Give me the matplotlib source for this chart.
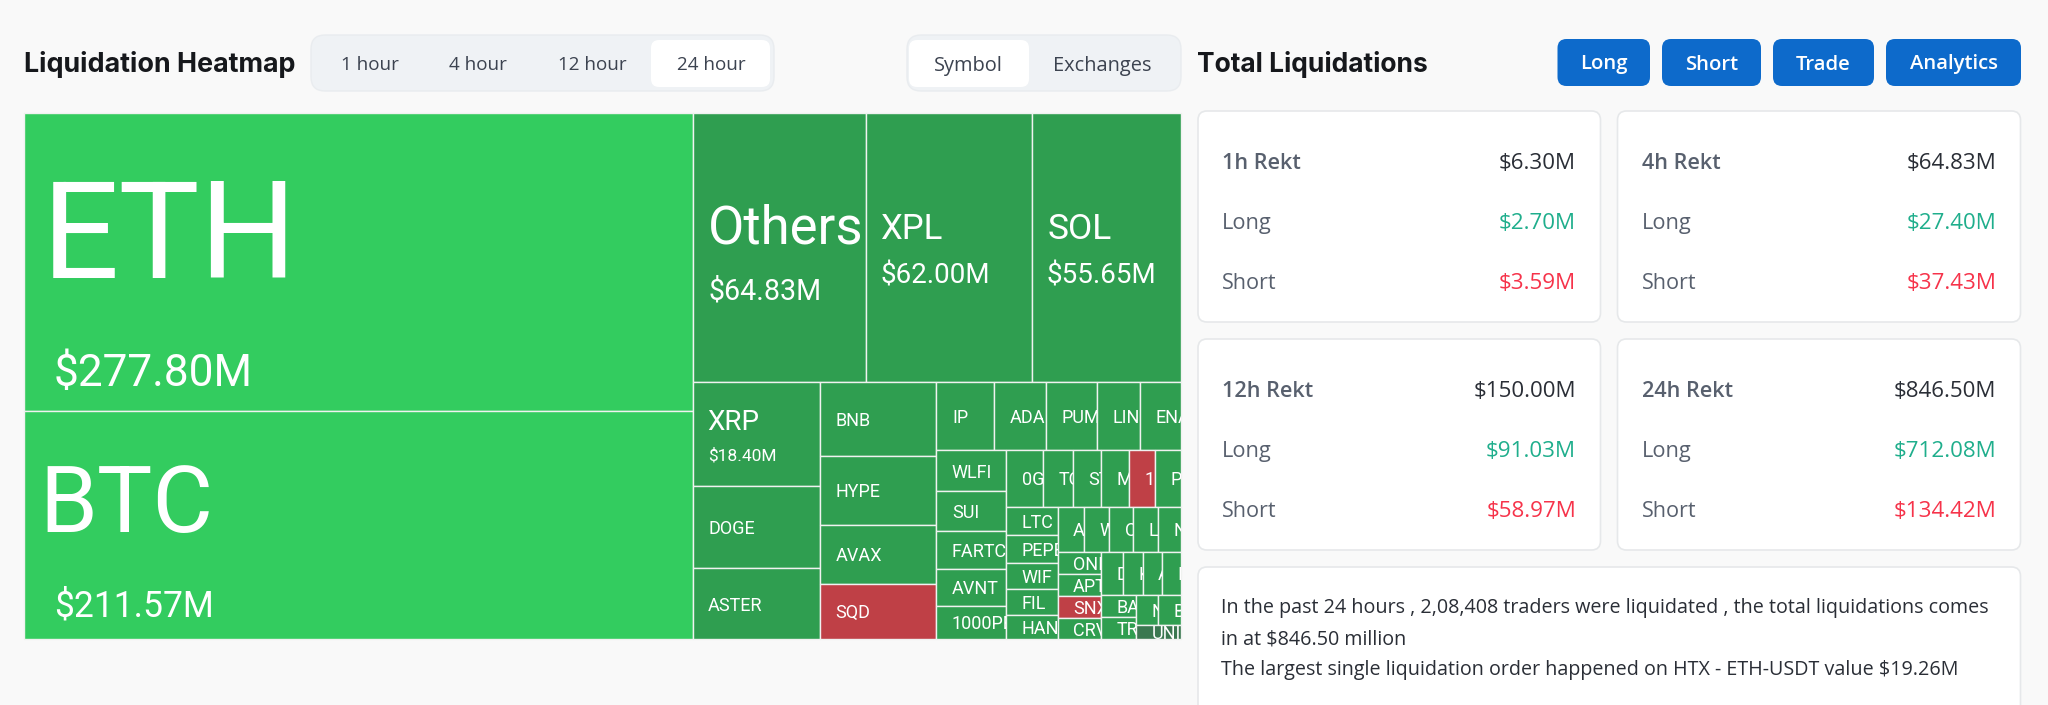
import matplotlib
matplotlib.use("Agg")
import matplotlib.pyplot as plt
from matplotlib.patches import Rectangle, FancyBboxPatch

# ---------- data ----------
# labels exactly as far as they can be read in the cells (longer names are cut off by their cell)
symbols = ["ETH", "BTC", "Others", "XPL", "SOL", "XRP", "DOGE", "ASTER", "BNB", "HYPE", "AVAX", "SQD",
           "IP", "ADA", "PUMP", "LINK", "ENA", "WLFI", "SUI", "FARTCO", "AVNT", "1000PE",
           "0G", "TO", "ST", "M", "1", "P", "LTC", "PEPE", "WIF", "FIL", "HAN",
           "A ", "W", "O", "L", "N", "ONI", "APT", "SNX", "CRV",
           "D", "K", "A", "I", "BA", "TR", "N ", "B", "UNI"]
liq_millions = [277.80, 211.57, 64.83, 62.00, 55.65, 18.40, 14.6, 12.5, 12.0, 11.07, 9.56, 8.91,
                5.53, 4.95, 4.81, 4.10, 3.86, 3.91, 3.85, 3.71, 3.59, 3.20,
                2.86, 2.34, 2.16, 2.18, 2.02, 2.02, 2.02, 1.98, 1.88, 1.88, 1.69,
                1.63, 1.60, 1.50, 1.55, 1.42, 1.34, 1.32, 1.34, 1.25,
                1.32, 1.20, 1.14, 1.13, 1.08, 1.11, 0.92, 0.92, 0.86]
net_short = ["SQD", "1", "SNX"]
muted = ["UNI"]

periods = ["1 hour", "4 hour", "12 hour", "24 hour"]
views = ["Symbol", "Exchanges"]
actions = ["Long", "Short", "Trade", "Analytics"]
card_names = ["1h Rekt", "4h Rekt", "12h Rekt", "24h Rekt"]
card_total = ["$6.30M", "$64.83M", "$150.00M", "$846.50M"]
card_long = ["$2.70M", "$27.40M", "$91.03M", "$712.08M"]
card_short = ["$3.59M", "$37.43M", "$58.97M", "$134.42M"]
summary = ["In the past 24 hours , 2,08,408 traders were liquidated , the total liquidations comes",
           "in at $846.50 million",
           "The largest single liquidation order happened on HTX - ETH-USDT value $19.26M"]

value_of = dict(zip(symbols, liq_millions))

# slice-and-dice layout of the treemap (names only; sizes come from the values)
tree = ("h", [
    ("v", ["ETH", "BTC"]),
    ("v", [
        ("h", ["Others", "XPL", "SOL"]),
        ("h", [
            ("v", ["XRP", "DOGE", "ASTER"]),
            ("v", ["BNB", "HYPE", "AVAX", "SQD"]),
            ("v", [
                ("h", ["IP", "ADA", "PUMP", "LINK", "ENA"]),
                ("h", [
                    ("v", ["WLFI", "SUI", "FARTCO", "AVNT", "1000PE"]),
                    ("v", [
                        ("h", ["0G", "TO", "ST", "M", "1", "P"]),
                        ("h", [
                            ("v", ["LTC", "PEPE", "WIF", "FIL", "HAN"]),
                            ("v", [
                                ("h", ["A ", "W", "O", "L", "N"]),
                                ("h", [
                                    ("v", ["ONI", "APT", "SNX", "CRV"]),
                                    ("v", [
                                        ("h", ["D", "K", "A", "I"]),
                                        ("h", [
                                            ("v", ["BA", "TR"]),
                                            ("v", [("h", ["N ", "B"]), "UNI"]),
                                        ]),
                                    ]),
                                ]),
                            ]),
                        ]),
                    ]),
                ]),
            ]),
        ]),
    ]),
])


def total(node):
    if isinstance(node, str):
        return value_of[node]
    return sum(total(c) for c in node[1])


def layout(node, x, y, w, h, out):
    if isinstance(node, str):
        out[node] = (x, y, w, h)
        return
    direction, children = node
    s = total(node)
    for c in children:
        f = total(c) / s
        if direction == "h":
            layout(c, x, y, w * f, h, out)
            x += w * f
        else:
            layout(c, x, y, w, h * f, out)
            y += h * f


# ---------- figure ----------
W, H = 2048, 705
plt.rcParams["font.family"] = ["Roboto", "DejaVu Sans"]
fig = plt.figure(figsize=(W / 100, H / 100), dpi=100, facecolor="#f9f9f9")
ax = fig.add_axes([0, 0, 1, 1])
ax.set_xlim(0, W)
ax.set_ylim(H, 0)
ax.axis("off")

UI = "Open Sans"
LBL = "Roboto"


def rbox(x0, y0, x1, y1, r, fc, ec="none", lw=0, z=1):
    p = FancyBboxPatch((x0 + r, y0 + r), x1 - x0 - 2 * r, y1 - y0 - 2 * r,
                       boxstyle=f"round,pad={r},rounding_size={r}", fc=fc, ec=ec, lw=lw, zorder=z)
    ax.add_patch(p)
    return p


def txt(x, y, s, size, color, ha="left", weight="normal", family=UI, **kw):
    return ax.text(x, y, s, fontsize=size, color=color, ha=ha, va="center_baseline",
                   fontweight=weight, family=family, zorder=5, **kw)


def clipped(x, y, s, size, patch, weight="normal"):
    t = txt(x, y, s.strip(), size, "white", family=LBL, weight=weight, clip_on=True)
    t.set_clip_path(patch)
    return t


# ---------- treemap ----------
GREEN_BIG = "#33cc5f"
GREEN = "#2f9e50"
RED = "#bf4046"
DARK = "#3a7850"
cells = {}
layout(tree, 23.5, 112.5, 1157, 526.5, cells)

big_labels = {
    "ETH": (42, 227, 98, 54, 370, 31.8),
    "BTC": (39, 497, 67, 54, 602, 25.6),
    "Others": (708, 223, 38, 708, 289, 20.6),
    "XPL": (880, 226, 25, 881, 273, 20),
    "SOL": (1048, 226, 25.5, 1047, 273, 20),
    "XRP": (707, 420, 20, 708, 454, 12.5),
}

for name in symbols:
    x, y, w, h = cells[name]
    col = RED if name in net_short else DARK if name in muted else GREEN_BIG if name in ("ETH", "BTC") else GREEN
    r = Rectangle((x, y), w, h, fc=col, ec="#f0f2f0", lw=1.0, zorder=2)
    ax.add_patch(r)
    if name in big_labels:
        lx, ly, ls, vx, vy, vs = big_labels[name]
        clipped(lx, ly, name, ls, r)
        clipped(vx, vy, f"${value_of[name]:.2f}M", vs, r)
    else:
        clipped(x + 15.5, y + h / 2, name, 13, r)

# ---------- left header ----------
txt(24, 62, "Liquidation Heatmap", 19.4, "#16181c", weight="bold", family="Inter")
rbox(311, 35, 774, 91, 14, "#eff2f5", ec="#e9ecef", lw=1)
rbox(651, 40, 770, 87, 8, "white")
for cx, s in zip([369.6, 478, 592, 711.5], periods):
    txt(cx, 63, s, 13.6, "#3c4350", ha="center")
rbox(907, 35, 1181, 91, 14, "#eff2f5", ec="#e9ecef", lw=1)
rbox(909, 40, 1029, 87, 8, "white")
for cx, s in zip([968.6, 1102.5], views):
    txt(cx, 63, s, 14.4, "#3c4350", ha="center")

# ---------- right header ----------
txt(1197, 62, "Total Liquidations", 19, "#16181c", weight="bold", family="Inter")
for (x0, x1), s in zip([(1557.5, 1650), (1662, 1761), (1773, 1874), (1886, 2021)], actions):
    rbox(x0, 39, x1, 86, 9, "#0d6acb")
    txt((x0 + x1) / 2, 62, s, 14.6, "white", ha="center", weight="semibold")

# ---------- cards ----------
card_x = [(1198, 1600.5), (1617.5, 2020.5)]
card_y = [(111, 322, [160.7, 221, 281]), (339, 550, [388.7, 449, 509])]
for i in range(4):
    x0, x1 = card_x[i % 2]
    y0, y1, rows = card_y[i // 2]
    rbox(x0, y0, x1, y1, 9, "white", ec="#e6e8ea", lw=1.2)
    lx, rx = x0 + 24, x1 - 24.5
    txt(lx, rows[0], card_names[i], 15.6, "#58606e", weight="semibold")
    txt(rx, rows[0], card_total[i], 16.1, "#2a2e36", ha="right")
    txt(lx, rows[1], "Long", 15.7, "#58606e")
    txt(rx, rows[1], card_long[i], 16.1, "#1fae8c", ha="right")
    txt(lx, rows[2], "Short", 15.6, "#58606e")
    txt(rx, rows[2], card_short[i], 16.1, "#f6334a", ha="right")

rbox(1198, 567, 2020.5, 716, 9, "white", ec="#e6e8ea", lw=1.2)
for yy, line in zip([606, 636.7, 667.3], summary):
    txt(1221, yy, line, 14.2, "#2a2e36")

fig.savefig("out.png", dpi=100, facecolor=fig.get_facecolor())
